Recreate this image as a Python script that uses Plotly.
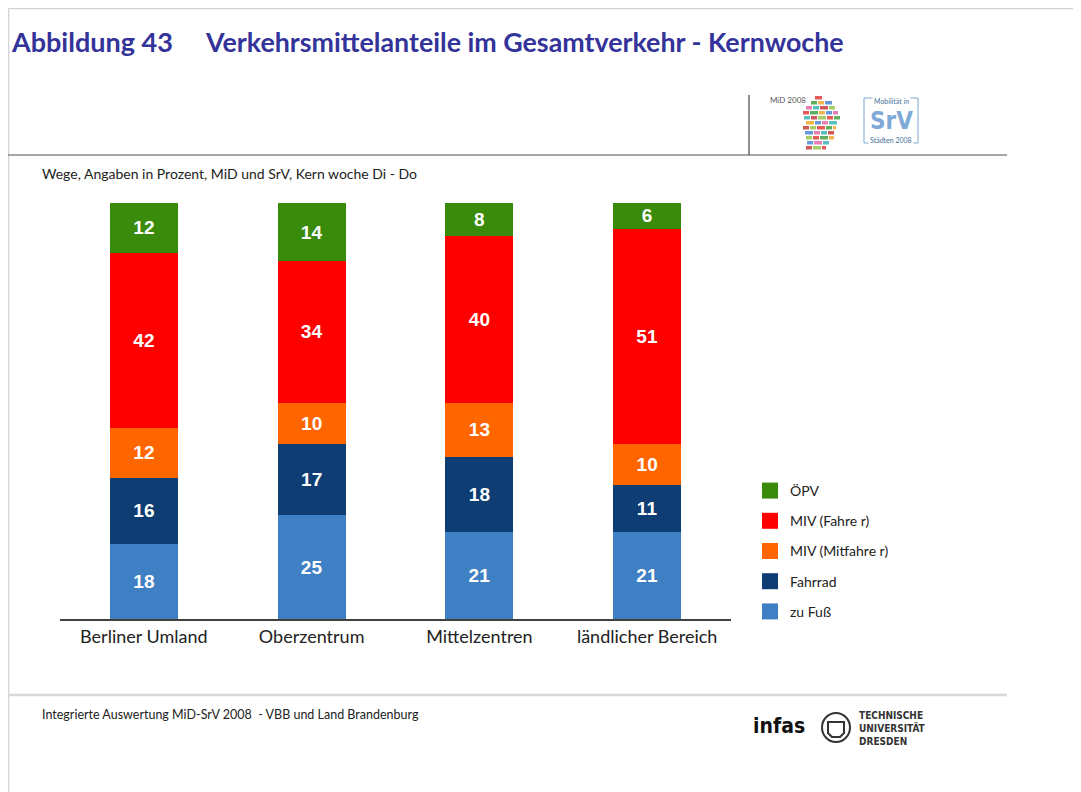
import plotly.graph_objects as go

categories = ["Berliner Umland", "Oberzentrum", "Mittelzentren", "ländlicher Bereich"]
series_names = ["zu Fuß", "Fahrrad", "MIV (Mitfahrer)", "MIV (Fahrer)", "ÖPV"]
# segment sizes (percent)
zu_fuss = [18, 25, 21, 20.9]
fahrrad = [16, 17, 18, 11.2]
miv_mitfahrer = [12, 10, 13, 10.0]
miv_fahrer = [42, 34, 40, 51.7]
oepv = [12, 14, 8, 6.2]
# printed labels
zu_fuss_lbl = [18, 25, 21, 21]
fahrrad_lbl = [16, 17, 18, 11]
miv_mitfahrer_lbl = [12, 10, 13, 10]
miv_fahrer_lbl = [42, 34, 40, 51]
oepv_lbl = [12, 14, 8, 6]
legend_labels = ["ÖPV", "MIV (Fahre r)", "MIV (Mitfahre r)", "Fahrrad", "zu Fuß"]

series_values = [zu_fuss, fahrrad, miv_mitfahrer, miv_fahrer, oepv]
series_labels = [zu_fuss_lbl, fahrrad_lbl, miv_mitfahrer_lbl, miv_fahrer_lbl, oepv_lbl]
colors = ["#3F80C4", "#0E3D74", "#FF6600", "#FF0000", "#3A8A0C"]

# page body has an 8px margin; work in window pixels and convert
OFF = 8
W, H = 1081 - OFF, 792 - OFF
ML, MR, MT, MB = 60 - OFF, 350, 203 - OFF, 173
PW, PH = W - ML - MR, H - MT - MB


def px(x):
    return (x - OFF - ML) / PW


def py(y):
    return (H - MB - (y - OFF)) / PH


fig = go.Figure()

for name, vals, lbls, col in zip(series_names, series_values, series_labels, colors):
    fig.add_trace(go.Bar(
        x=categories, y=vals, name=name,
        marker=dict(color=col, line=dict(width=0)),
        width=0.405,
        text=[f"<b>{v}</b>" for v in lbls],
        textposition="inside", insidetextanchor="middle",
        constraintext="none", textangle=0,
        textfont=dict(color="white", size=19, family="Liberation Sans, Arial"),
        showlegend=False, hoverinfo="skip",
    ))

# legend entries (top to bottom)
for lab, col in zip(legend_labels, colors[::-1]):
    fig.add_trace(go.Scatter(
        x=[None], y=[None], mode="markers", name=lab,
        marker=dict(symbol="square", size=17, color=col),
        legendgroup=lab, showlegend=True,
    ))

P = dict(xref="paper", yref="paper")
shapes = [
    # page frame
    dict(type="line", **P, x0=px(8.5), x1=px(1081), y0=py(8.5), y1=py(8.5),
         line=dict(color="#d4d4d4", width=1.5)),
    dict(type="line", **P, x0=px(8.5), x1=px(8.5), y0=py(8.5), y1=py(792),
         line=dict(color="#d4d4d4", width=1.5)),
    # header line
    dict(type="line", **P, x0=px(8), x1=px(1007), y0=py(155), y1=py(155),
         line=dict(color="#8a8a8a", width=1.5)),
    dict(type="line", **P, x0=px(749), x1=px(749), y0=py(95), y1=py(155),
         line=dict(color="#444444", width=1.2)),
    # footer line
    dict(type="line", **P, x0=px(8), x1=px(1007), y0=py(695), y1=py(695),
         line=dict(color="#d8d8d8", width=2.5)),
    # SrV logo box
    dict(type="rect", **P, x0=px(864), x1=px(918), y0=py(98), y1=py(143),
         line=dict(color="#7fa7cf", width=1)),
    # TU Dresden logo
    dict(type="circle", **P, x0=px(822), x1=px(850), y0=py(713), y1=py(742),
         line=dict(color="#333333", width=2)),
    dict(type="path", **P,
         path=f"M {px(828)},{py(722)} L {px(844)},{py(722)} L {px(844)},{py(733)} L {px(840)},{py(737)} L {px(832)},{py(737)} L {px(828)},{py(733)} Z",
         line=dict(color="#333333", width=2)),
]

# decorative MiD map mosaic
mosaic_cols = ["#e03030", "#3a9a3a", "#f0a020", "#4080d0", "#e060a0", "#30b0b0", "#c03030", "#90c040"]
rows = [(96, 815, 822), (101, 811, 832), (106, 806, 836), (111, 803, 838), (116, 804, 840),
        (121, 806, 838), (126, 803, 836), (131, 805, 834), (136, 806, 834), (141, 807, 830), (146, 806, 826)]
k = 0
for yy, xa, xb in rows:
    x = xa
    while x < xb:
        w = 6 if (k % 3) else 8
        shapes.append(dict(type="rect", **P,
                           x0=px(x), x1=px(min(x + w, xb)), y0=py(yy), y1=py(yy + 3.5),
                           line=dict(width=0), fillcolor=mosaic_cols[k % len(mosaic_cols)], opacity=0.8))
        x += w + 1
        k += 1


def ann(text, x, y, size, color, family="Lato", xanchor="left", **kw):
    return dict(text=text, x=px(x), y=py(y), xanchor=xanchor, yanchor="middle",
                showarrow=False, font=dict(family=family, size=size, color=color), **P, **kw)


NARROW = "Liberation Sans Narrow, DejaVu Sans Condensed"
annotations = [
    ann("<b>Abbildung 43</b>", 9, 42, 27, "#33339a"),
    ann("<b>Verkehrsmittelanteile im Gesamtverkehr - Kernwoche</b>", 203, 42, 26.8, "#33339a"),
    ann("Wege, Angaben in Prozent, MiD und SrV, Kern woche Di - Do", 40, 173, 14, "#222222"),
    ann("Integrierte Auswertung MiD-SrV 2008  - VBB und Land Brandenburg", 40, 714, 12.5, "#222222"),
    ann("MiD 2008", 768, 100, 8, "#555555"),
    ann("Mobilität in", 891, 101, 7, "#4a6f9a", xanchor="center", bgcolor="white"),
    ann("<b>SrV</b>", 891, 121, 24, "#7fa9d6", family=NARROW, xanchor="center"),
    ann("Städten 2008", 891, 140, 7, "#4a6f9a", xanchor="center", bgcolor="white"),
    ann("<b>infas</b>", 779, 726, 21, "#111111", family=NARROW, xanchor="center"),
    ann("<b>TECHNISCHE<br>UNIVERSITÄT<br>DRESDEN</b>", 857, 728, 10, "#333333", family=NARROW, align="left"),
]

fig.update_layout(
    barmode="stack",
    width=W, height=H,
    margin=dict(l=ML, r=MR, t=MT, b=MB, pad=0),
    paper_bgcolor="white", plot_bgcolor="white",
    showlegend=True,
    legend=dict(x=px(750), y=py(475), xanchor="left", yanchor="top",
                font=dict(family="Lato", size=14, color="#222222"),
                tracegroupgap=9, itemsizing="trace", traceorder="grouped",
                bgcolor="rgba(0,0,0,0)"),
    xaxis=dict(type="category", categoryorder="array", categoryarray=categories,
               range=[-0.5, 3.5], showline=True, linecolor="#404040", linewidth=2,
               ticks="", showgrid=False, zeroline=False,
               tickfont=dict(family="Lato", size=18, color="#222222")),
    yaxis=dict(range=[0, 100], visible=False, showgrid=False, zeroline=False),
    shapes=shapes,
    annotations=annotations,
)

fig.write_html("out.html")
